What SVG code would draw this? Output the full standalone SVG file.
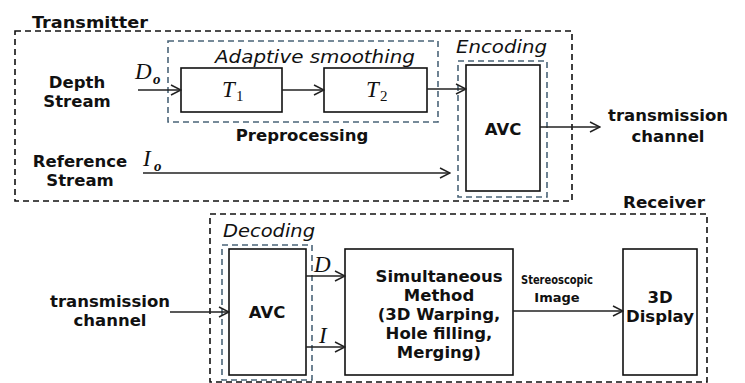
<svg xmlns="http://www.w3.org/2000/svg" width="745" height="383" viewBox="0 0 745 383">
<defs>
<marker id="arr" markerWidth="12" markerHeight="12" refX="11" refY="6" orient="auto" markerUnits="userSpaceOnUse">
<polyline points="1,1 11,6 1,11" fill="none" stroke="#222" stroke-width="1.5"/>
</marker>
<style>
.outer{fill:none;stroke:#111;stroke-width:1.6;stroke-dasharray:6,4}
.inner{fill:none;stroke:#4a6478;stroke-width:1.6;stroke-dasharray:6,4}
.box{fill:#fff;stroke:#111;stroke-width:1.6}
.conn{fill:none;stroke:#222;stroke-width:1.5}
.lbl{font-family:"DejaVu Sans",sans-serif;font-weight:bold;font-size:16.5px;fill:#111;text-anchor:middle}
.ital{font-family:"DejaVu Sans",sans-serif;font-style:italic;font-size:17px;fill:#111}
.title{font-family:"DejaVu Sans",sans-serif;font-weight:bold;font-size:15px;fill:#111}
.math{font-family:"Liberation Serif",serif;font-style:italic;font-size:23px;fill:#111}
.sub{font-family:"Liberation Serif",serif;font-size:15px;fill:#111}
.subi{font-family:"Liberation Serif",serif;font-style:italic;font-weight:bold;font-size:15px;fill:#111}
.small{font-family:"DejaVu Sans",sans-serif;font-weight:bold;font-size:13px;fill:#111;text-anchor:middle}
</style>
</defs>

<g id="transmitter">
<rect class="outer" x="15" y="31" width="557" height="170"/>
<text class="title" x="32" y="28" textLength="116" lengthAdjust="spacingAndGlyphs">Transmitter</text>
</g>
<g id="adaptive-smoothing">
<rect class="inner" x="168" y="41" width="270" height="81"/>
<text class="ital" x="215" y="63" textLength="200" lengthAdjust="spacingAndGlyphs">Adaptive smoothing</text>
</g>
<g id="preprocessing-label"><text class="lbl" x="302" y="141">Preprocessing</text></g>
<g id="T1">
<rect class="box" x="181" y="68" width="101" height="44"/>
<text class="math" x="222" y="97">T</text><text class="sub" x="236" y="101">1</text>
</g>
<g id="T2">
<rect class="box" x="324" y="68" width="103" height="44"/>
<text class="math" x="366" y="97">T</text><text class="sub" x="380" y="101">2</text>
</g>
<g id="depth-stream">
<text class="lbl" x="77" y="88">Depth</text>
<text class="lbl" x="77" y="107">Stream</text>
</g>
<g id="reference-stream">
<text class="lbl" x="80" y="167">Reference</text>
<text class="lbl" x="80" y="186">Stream</text>
</g>
<g id="encoding">
<text class="ital" x="456" y="53" textLength="91" lengthAdjust="spacingAndGlyphs">Encoding</text>
<rect class="inner" x="458" y="61" width="89" height="136"/>
</g>
<g id="avc-enc">
<rect class="box" x="466" y="65" width="74" height="126"/>
<text class="lbl" x="503" y="135">AVC</text>
</g>
<g id="tx-channel">
<text class="lbl" x="668" y="121">transmission</text>
<text class="lbl" x="668" y="142">channel</text>
</g>

<g id="receiver">
<rect class="outer" x="210" y="214" width="497" height="168"/>
<text class="title" x="705" y="208" text-anchor="end" textLength="82" lengthAdjust="spacingAndGlyphs">Receiver</text>
</g>
<g id="decoding">
<text class="ital" x="223" y="237" textLength="92" lengthAdjust="spacingAndGlyphs">Decoding</text>
<rect class="inner" x="222" y="245" width="90" height="135"/>
</g>
<g id="avc-dec">
<rect class="box" x="229" y="249" width="77" height="126"/>
<text class="lbl" x="267" y="318">AVC</text>
</g>
<g id="rx-channel">
<text class="lbl" x="110" y="307">transmission</text>
<text class="lbl" x="110" y="326">channel</text>
</g>
<g id="simultaneous">
<rect class="box" x="345" y="249" width="168" height="126"/>
<text class="lbl" x="439" y="282">Simultaneous</text>
<text class="lbl" x="439" y="301">Method</text>
<text class="lbl" x="439" y="320">(3D Warping,</text>
<text class="lbl" x="439" y="339">Hole filling,</text>
<text class="lbl" x="439" y="358">Merging)</text>
</g>
<g id="display">
<rect class="box" x="623" y="249" width="74" height="126"/>
<text class="lbl" x="660" y="303">3D</text>
<text class="lbl" x="660" y="322">Display</text>
</g>

<g id="connectors">
<line class="conn" x1="138" y1="90" x2="181" y2="90" marker-end="url(#arr)"/>
<line class="conn" x1="282" y1="90" x2="324" y2="90" marker-end="url(#arr)"/>
<line class="conn" x1="427" y1="89" x2="466" y2="89" marker-end="url(#arr)"/>
<line class="conn" x1="143" y1="173" x2="450" y2="173" marker-end="url(#arr)"/>
<line class="conn" x1="540" y1="127" x2="600" y2="127" marker-end="url(#arr)"/>
<line class="conn" x1="170" y1="312" x2="229" y2="312" marker-end="url(#arr)"/>
<line class="conn" x1="306" y1="276" x2="345" y2="276" marker-end="url(#arr)"/>
<line class="conn" x1="306" y1="347" x2="345" y2="347" marker-end="url(#arr)"/>
<line class="conn" x1="513" y1="311" x2="623" y2="311" marker-end="url(#arr)"/>
<text class="math" x="135" y="79">D</text><text class="subi" x="153" y="84">o</text>
<text class="math" x="143" y="166">I</text><text class="subi" x="154" y="171">o</text>
<text class="math" x="314" y="272">D</text>
<text class="math" x="319" y="343">I</text>
<text class="small" x="557" y="284" textLength="72" lengthAdjust="spacingAndGlyphs">Stereoscopic</text>
<text class="small" x="557" y="302">Image</text>
</g>
</svg>
